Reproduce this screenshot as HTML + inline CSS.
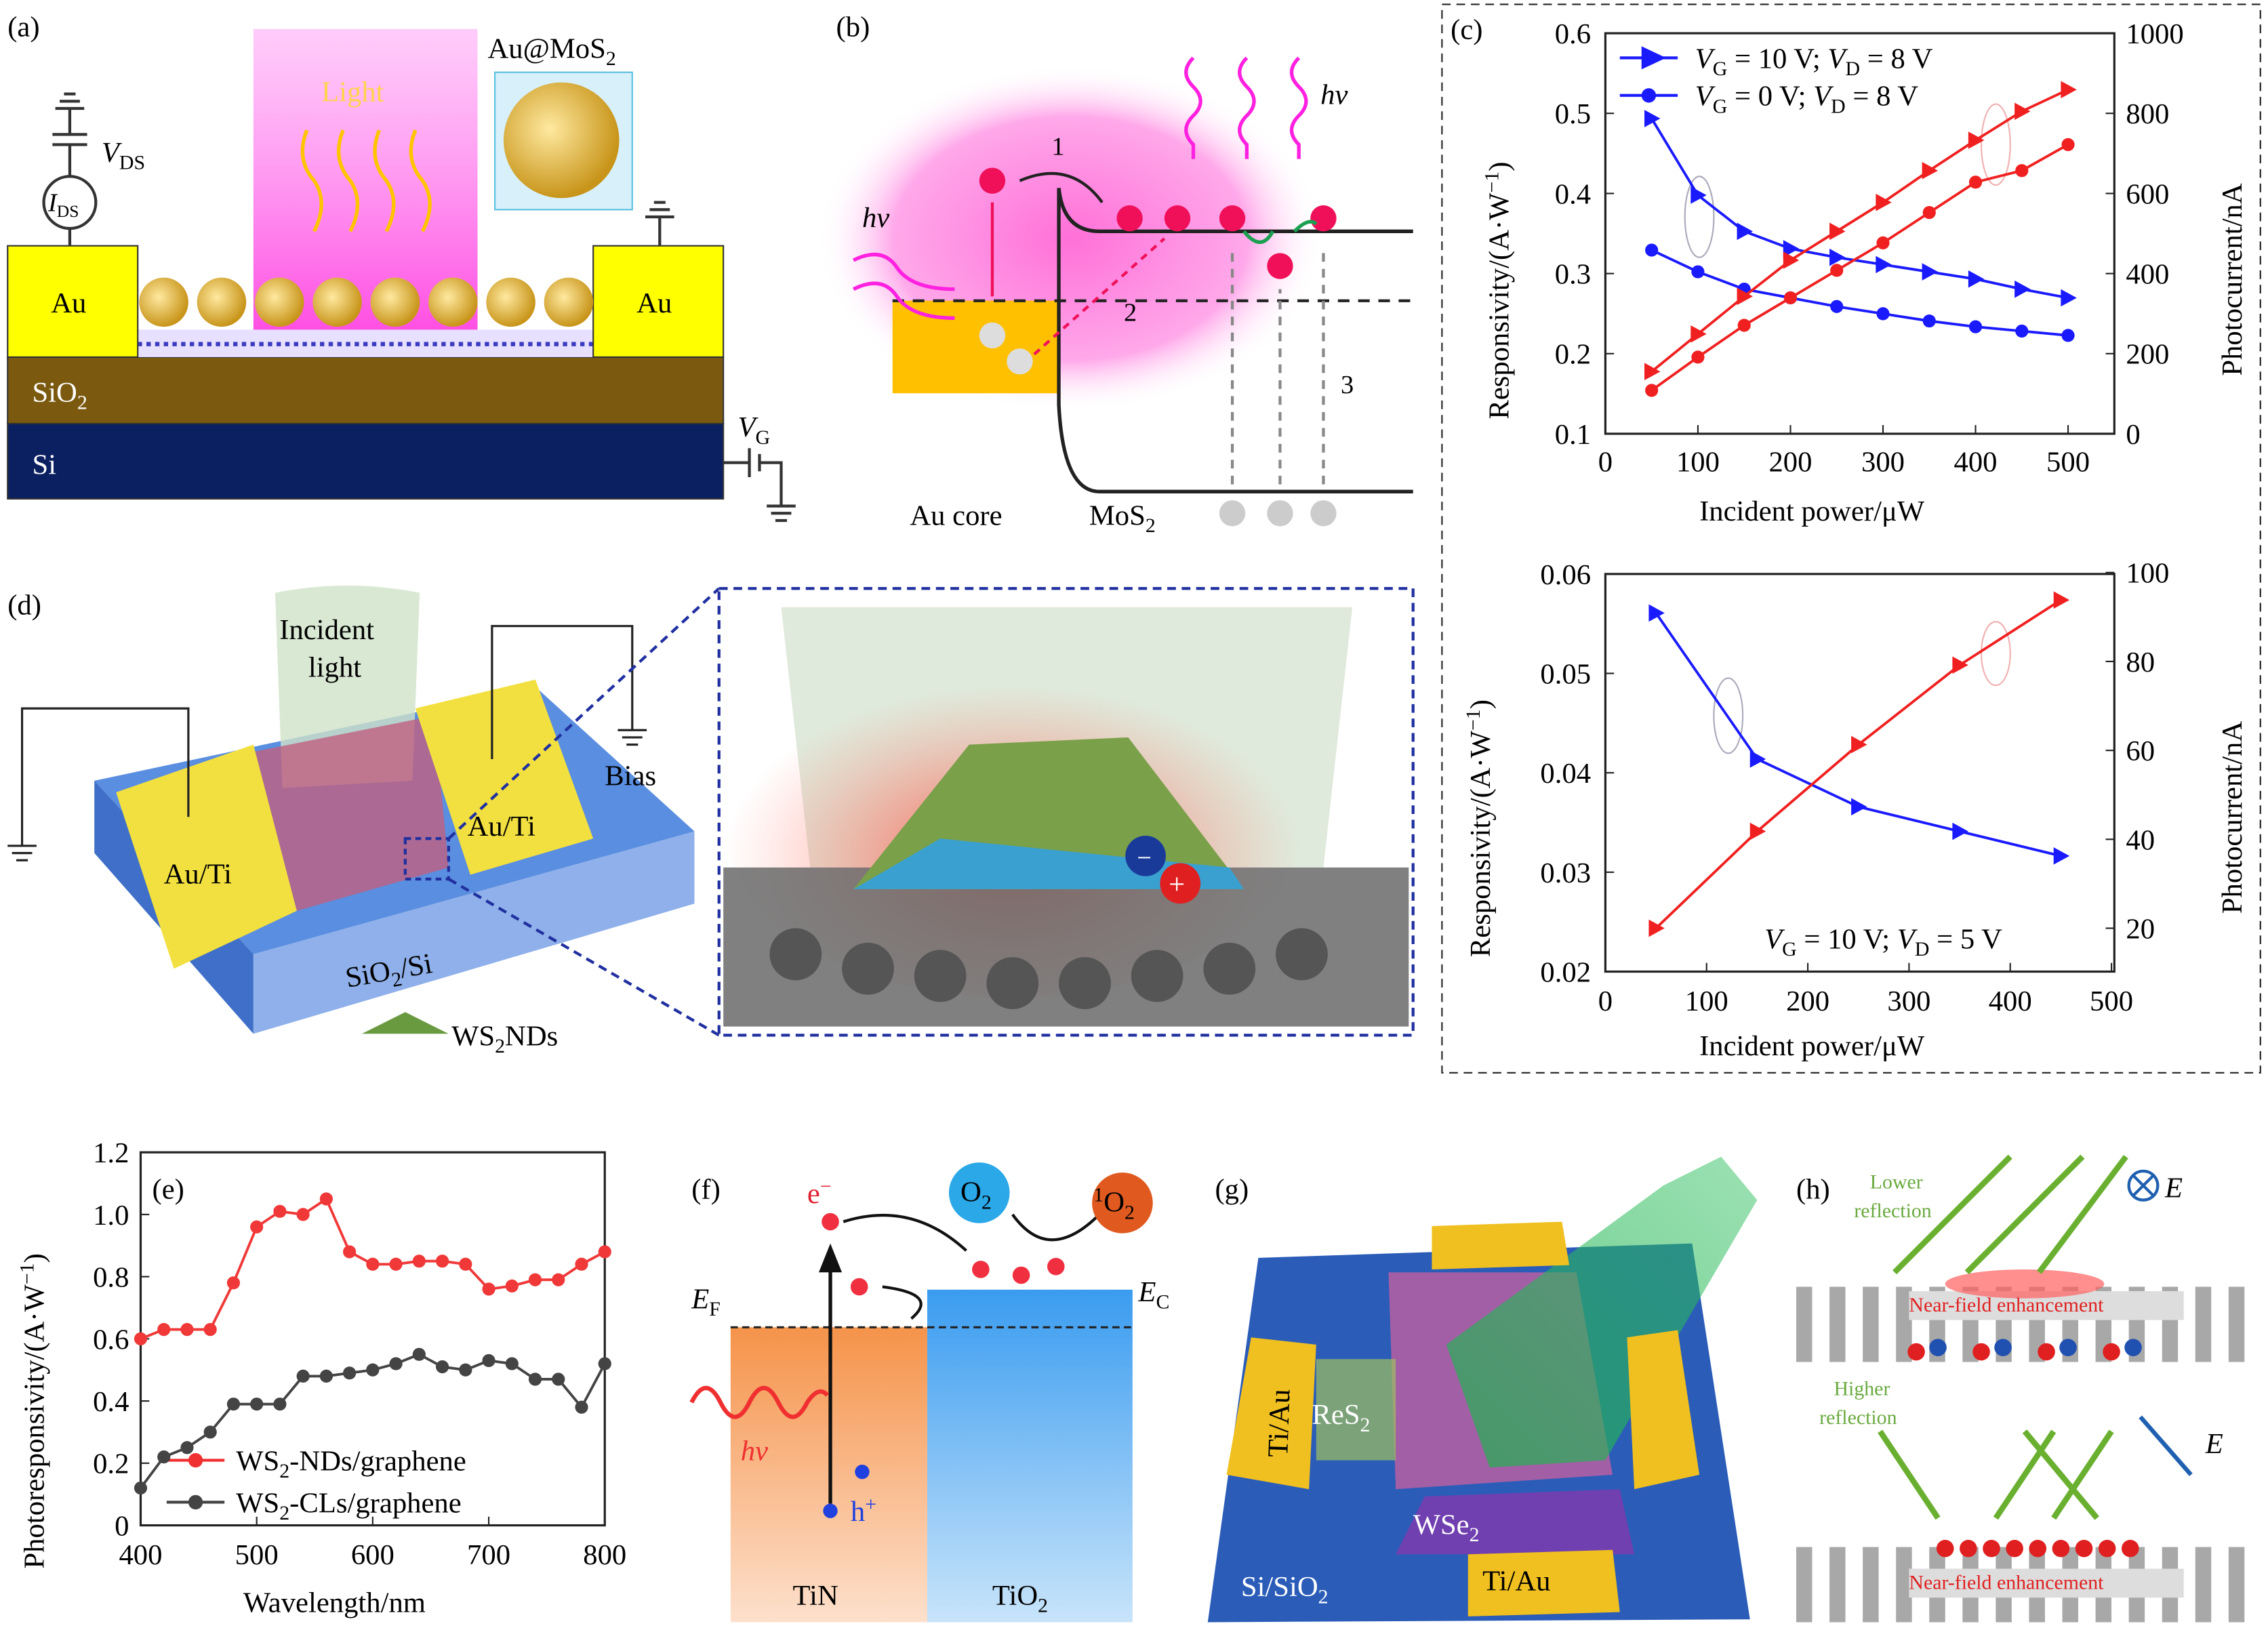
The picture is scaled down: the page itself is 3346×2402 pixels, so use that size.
<!DOCTYPE html>
<html><head><meta charset="utf-8"><style>
html,body{margin:0;padding:0;background:#fff}
svg{display:block}
text{font-family:"Liberation Serif",serif}
</style></head><body>
<svg id="s" width="3346" height="2402" viewBox="0 0 1568 1126" xmlns="http://www.w3.org/2000/svg">
<defs>
<linearGradient id="beam" x1="0" y1="0" x2="0" y2="1"><stop offset="0" stop-color="#ff9af5" stop-opacity="0.5"/><stop offset="1" stop-color="#ff40e0"/></linearGradient>
<radialGradient id="pink" cx="0.5" cy="0.5" r="0.5"><stop offset="0" stop-color="#ff70d8"/><stop offset="0.7" stop-color="#ffa8ea"/><stop offset="1" stop-color="#fff" stop-opacity="0"/></radialGradient>
<linearGradient id="tin" x1="0" y1="0" x2="0" y2="1"><stop offset="0" stop-color="#f5934a"/><stop offset="1" stop-color="#fde0cc"/></linearGradient>
<linearGradient id="tio" x1="0" y1="0" x2="0" y2="1"><stop offset="0" stop-color="#3a9cf0"/><stop offset="1" stop-color="#c8e4fa"/></linearGradient>
<radialGradient id="ball" cx="0.4" cy="0.4" r="0.6"><stop offset="0" stop-color="#ffe9a0"/><stop offset="1" stop-color="#c8951a"/></radialGradient>
<radialGradient id="glow" cx="0.5" cy="0.6" r="0.5"><stop offset="0" stop-color="#ff3020" stop-opacity="0.8"/><stop offset="1" stop-color="#ff8070" stop-opacity="0"/></radialGradient>
<linearGradient id="gb" x1="1" y1="0" x2="0" y2="1"><stop offset="0" stop-color="#30c060" stop-opacity="0.6"/><stop offset="1" stop-color="#20b050" stop-opacity="0.9"/></linearGradient>
</defs>

<!-- (a) -->
<text x="5" y="25" font-size="20">(a)</text>
<rect x="175" y="20" width="155" height="227" fill="url(#beam)"/>
<text x="222" y="70" font-size="20" fill="#ffd34d">Light</text>
<g stroke="#ffc400" stroke-width="2.5" fill="none">
<path d="M212 90 q-8 20 5 35 q10 15 0 35"/><path d="M237 90 q-8 20 5 35 q10 15 0 35"/><path d="M262 90 q-8 20 5 35 q10 15 0 35"/><path d="M287 90 q-8 20 5 35 q10 15 0 35"/></g>
<rect x="5" y="247" width="495" height="46" fill="#7b5a10" stroke="#333"/>
<rect x="5" y="293" width="495" height="52" fill="#0b2060" stroke="#333"/>
<rect x="95" y="228" width="315" height="19" fill="#e8e0ff"/>
<line x1="95" y1="238" x2="410" y2="238" stroke="#3c3cc0" stroke-width="3" stroke-dasharray="3 3"/>
<rect x="5" y="170" width="90" height="77" fill="#ffff00" stroke="#333"/>
<rect x="410" y="170" width="90" height="77" fill="#ffff00" stroke="#333"/>
<g fill="url(#ball)"><circle cx="113" cy="209" r="17"/><circle cx="153" cy="209" r="17"/><circle cx="193" cy="209" r="17"/><circle cx="233" cy="209" r="17"/><circle cx="273" cy="209" r="17"/><circle cx="313" cy="209" r="17"/><circle cx="353" cy="209" r="17"/><circle cx="393" cy="209" r="17"/></g>
<rect x="342" y="50" width="95" height="95" fill="#d8f0fa" stroke="#5bc0e0"/>
<circle cx="388" cy="97" r="40" fill="url(#ball)"/>
<text x="337" y="40" font-size="20">Au@MoS<tspan font-size="14" dy="5">2</tspan></text>
<text x="35" y="216" font-size="20">Au</text><text x="440" y="216" font-size="20">Au</text>
<text x="22" y="278" font-size="20" fill="#fff">SiO<tspan font-size="14" dy="5">2</tspan></text>
<text x="22" y="328" font-size="20" fill="#fff">Si</text>
<circle cx="48" cy="140" r="18" fill="#fff" stroke="#333" stroke-width="2"/>
<text x="33" y="146" font-size="18" font-style="italic">I<tspan font-size="12" dy="4" font-style="normal">DS</tspan></text>
<path d="M48 122 V100 M36 100 H60 M36 93 H60 M48 93 V75 M38 75 H58 M41 70 H55 M44 65 H52 M48 158 V170" stroke="#333" stroke-width="2" fill="none"/>
<text x="70" y="112" font-size="20" font-style="italic">V<tspan font-size="14" dy="5" font-style="normal">DS</tspan></text>
<path d="M456 170 V150 M446 150 H466 M449 145 H463 M452 140 H460 M500 320 H518 M518 310 V330 M525 314 V326 M525 320 H540 V350 M530 350 H550 M533 355 H547 M536 360 H544" stroke="#333" stroke-width="2" fill="none"/>
<text x="510" y="302" font-size="20" font-style="italic">V<tspan font-size="14" dy="5" font-style="normal">G</tspan></text>

<!-- (b) -->
<text x="578" y="25" font-size="20">(b)</text>
<ellipse cx="740" cy="165" rx="175" ry="120" fill="url(#pink)"/>
<rect x="617" y="208" width="115" height="64" fill="#ffc000"/>
<path d="M732 130 Q735 160 760 160 H977 M732 130 V280 Q735 340 760 340 H977" stroke="#222" stroke-width="2.5" fill="none"/>
<line x1="617" y1="208" x2="977" y2="208" stroke="#222" stroke-width="2" stroke-dasharray="8 6"/>
<circle cx="686" cy="125" r="9" fill="#f0105a"/><line x1="686" y1="205" x2="686" y2="140" stroke="#f0105a" stroke-width="2"/>
<circle cx="686" cy="232" r="9" fill="#ddd"/><circle cx="705" cy="250" r="9" fill="#ddd"/>
<line x1="715" y1="245" x2="805" y2="165" stroke="#f0105a" stroke-width="2" stroke-dasharray="5 4"/>
<path d="M705 125 Q740 110 762 140" stroke="#222" stroke-width="2" fill="none"/>
<g fill="#f0105a"><circle cx="781" cy="151" r="9"/><circle cx="814" cy="151" r="9"/><circle cx="852" cy="151" r="9"/><circle cx="915" cy="151" r="9"/><circle cx="885" cy="184" r="9"/></g>
<path d="M860 160 q12 15 20 0 M895 160 q10 -10 15 -5" stroke="#1aa050" stroke-width="2.5" fill="none"/>
<g stroke="#888" stroke-width="2" stroke-dasharray="6 5"><line x1="852" y1="335" x2="852" y2="175"/><line x1="885" y1="335" x2="885" y2="200"/><line x1="915" y1="335" x2="915" y2="175"/></g>
<g fill="#ccc"><circle cx="852" cy="355" r="9"/><circle cx="885" cy="355" r="9"/><circle cx="915" cy="355" r="9"/></g>
<g stroke="#ff20e0" stroke-width="2.5" fill="none"><path d="M825 40 q-10 10 0 20 q10 10 0 20 q-10 10 0 20 v10"/><path d="M862 40 q-10 10 0 20 q10 10 0 20 q-10 10 0 20 v10"/><path d="M898 40 q-10 10 0 20 q10 10 0 20 q-10 10 0 20 v10"/><path d="M590 180 q20 -10 30 5 q10 15 40 15 M590 200 q20 -10 30 5 q10 15 40 15"/></g>
<text x="913" y="72" font-size="20" font-style="italic">hν</text>
<text x="596" y="157" font-size="20" font-style="italic">hν</text>
<text x="727" y="107" font-size="18">1</text><text x="777" y="222" font-size="18">2</text><text x="927" y="272" font-size="18">3</text>
<text x="629" y="363" font-size="20">Au core</text>
<text x="753" y="363" font-size="20">MoS<tspan font-size="14" dy="5">2</tspan></text>

<!-- (c) -->
<rect x="997" y="3" width="566" height="739" fill="none" stroke="#222" stroke-dasharray="6 4"/>
<text x="1003" y="27" font-size="20">(c)</text>
<g fill="none" stroke="#222" stroke-width="1.5"><rect x="1110" y="23" width="352" height="277"/></g>
<g fill="none" stroke="#222" stroke-width="1.5"><rect x="1110" y="397" width="352" height="275"/></g>
<text font-size="20" transform="translate(1043 290) rotate(-90)">Responsivity/(A·W<tspan font-size="14" dy="-7">−1</tspan><tspan dy="7">)</tspan></text>
<text font-size="20" transform="translate(1550 260) rotate(-90)">Photocurrent/nA</text>
<text x="1175" y="360" font-size="20">Incident power/μW</text>
<text font-size="20" transform="translate(1030 662) rotate(-90)">Responsivity/(A·W<tspan font-size="14" dy="-7">−1</tspan><tspan dy="7">)</tspan></text>
<text font-size="20" transform="translate(1550 632) rotate(-90)">Photocurrent/nA</text>
<text x="1175" y="730" font-size="20">Incident power/μW</text>
<text x="1220" y="656" font-size="20"><tspan font-style="italic">V</tspan><tspan font-size="14" dy="5">G</tspan><tspan dy="-5"> = 10 V; </tspan><tspan font-style="italic">V</tspan><tspan font-size="14" dy="5">D</tspan><tspan dy="-5"> = 5 V</tspan></text>
<line x1="1120" y1="40" x2="1160" y2="40" stroke="#1a1aff" stroke-width="2"/><path d="M1135 32 L1152 40 L1135 48Z" fill="#1a1aff"/>
<line x1="1120" y1="66" x2="1160" y2="66" stroke="#1a1aff" stroke-width="2"/><circle cx="1140" cy="66" r="5" fill="#1a1aff"/>
<text x="1172" y="47" font-size="20"><tspan font-style="italic">V</tspan><tspan font-size="14" dy="5">G</tspan><tspan dy="-5"> = 10 V; </tspan><tspan font-style="italic">V</tspan><tspan font-size="14" dy="5">D</tspan><tspan dy="-5"> = 8 V</tspan></text>
<text x="1172" y="73" font-size="20"><tspan font-style="italic">V</tspan><tspan font-size="14" dy="5">G</tspan><tspan dy="-5"> = 0 V; </tspan><tspan font-style="italic">V</tspan><tspan font-size="14" dy="5">D</tspan><tspan dy="-5"> = 8 V</tspan></text>
<ellipse cx="1175" cy="150" rx="10" ry="28" fill="none" stroke="#aab" /><ellipse cx="1380" cy="100" rx="10" ry="28" fill="none" stroke="#f0b0b0"/>
<ellipse cx="1195" cy="495" rx="10" ry="26" fill="none" stroke="#aab" /><ellipse cx="1380" cy="452" rx="10" ry="22" fill="none" stroke="#f0b0b0"/>

<!-- (d) -->
<text x="5" y="425" font-size="20">(d)</text>
<path d="M65 540 L370 475 L480 575 L175 660Z" fill="#5a8ee0"/>
<path d="M65 540 L175 660 L175 715 L65 590Z" fill="#3f6fc8"/>
<path d="M175 660 L480 575 L480 625 L175 715Z" fill="#8fb0ea"/>
<path d="M190 410 Q240 400 290 410 L285 540 L195 545Z" fill="#cfe2c8" opacity="0.8"/>
<path d="M175 520 L300 495 L310 600 L205 630Z" fill="#c06080" opacity="0.8"/>
<path d="M80 548 L175 515 L205 630 L120 670Z" fill="#f2e040"/>
<path d="M287 490 L370 470 L410 580 L325 605Z" fill="#f2e040"/>
<rect x="280" y="580" width="30" height="28" fill="none" stroke="#2030a0" stroke-width="2" stroke-dasharray="4 3"/>
<text x="193" y="442" font-size="20">Incident</text><text x="213" y="468" font-size="20">light</text>
<text x="113" y="611" font-size="20">Au/Ti</text><text x="323" y="578" font-size="20">Au/Ti</text>
<text x="240" y="683" font-size="20" transform="rotate(-10 240 683)">SiO<tspan font-size="14" dy="5">2</tspan><tspan dy="-5">/Si</tspan></text>
<text x="418" y="543" font-size="20">Bias</text>
<path d="M130 565 V490 H15 V585 M5 585 H25 M8 590 H22 M11 595 H19 M340 525 V433 H437 V505 M427 505 H447 M430 510 H444 M433 515 H441" stroke="#222" stroke-width="1.5" fill="none"/>
<path d="M250 715 L280 700 L310 715Z" fill="#6a9a40"/>
<text x="312" y="723" font-size="20">WS<tspan font-size="14" dy="5">2</tspan><tspan dy="-5">NDs</tspan></text>
<line x1="310" y1="580" x2="497" y2="407" stroke="#2030a0" stroke-width="2" stroke-dasharray="6 4"/>
<line x1="310" y1="608" x2="497" y2="716" stroke="#2030a0" stroke-width="2" stroke-dasharray="6 4"/>
<rect x="497" y="407" width="480" height="309" fill="#fff" stroke="#2030a0" stroke-width="2" stroke-dasharray="6 4"/>
<path d="M540 420 L935 420 L915 600 L560 600Z" fill="#dfeadc"/>
<ellipse cx="700" cy="570" rx="200" ry="120" fill="url(#glow)"/>
<rect x="500" y="600" width="474" height="110" fill="#6a6a6a" opacity="0.85"/>
<g fill="#555"><circle cx="550" cy="660" r="18"/><circle cx="600" cy="670" r="18"/><circle cx="650" cy="675" r="18"/><circle cx="700" cy="680" r="18"/><circle cx="750" cy="680" r="18"/><circle cx="800" cy="675" r="18"/><circle cx="850" cy="670" r="18"/><circle cx="900" cy="660" r="18"/></g>
<path d="M590 615 L670 515 L780 510 L860 615Z" fill="#7aa04a"/>
<path d="M590 615 L650 580 L850 600 L860 615Z" fill="#3aa0d0"/>
<circle cx="792" cy="592" r="14" fill="#1a3a9a"/><circle cx="816" cy="611" r="14" fill="#e02020"/>
<text x="786" y="599" font-size="18" fill="#fff">−</text><text x="808" y="618" font-size="20" fill="#fff">+</text>

<!-- (e) -->
<text x="105" y="829" font-size="20">(e)</text>
<g fill="none" stroke="#222" stroke-width="1.5"><rect x="97" y="797" width="321" height="258"/></g>
<text font-size="20" transform="translate(30 1085) rotate(-90)">Photoresponsivity/(A·W<tspan font-size="14" dy="-7">−1</tspan><tspan dy="7">)</tspan></text>
<text x="168" y="1115" font-size="20">Wavelength/nm</text>
<line x1="115" y1="1010" x2="155" y2="1010" stroke="#f03030" stroke-width="2"/><circle cx="135" cy="1010" r="5" fill="#f03030"/>
<line x1="115" y1="1039" x2="155" y2="1039" stroke="#444" stroke-width="2"/><circle cx="135" cy="1039" r="5" fill="#444"/>
<text x="163" y="1017" font-size="20">WS<tspan font-size="14" dy="5">2</tspan><tspan dy="-5">-NDs/graphene</tspan></text>
<text x="163" y="1046" font-size="20">WS<tspan font-size="14" dy="5">2</tspan><tspan dy="-5">-CLs/graphene</tspan></text>

<!-- (f) -->
<text x="478" y="829" font-size="20">(f)</text>
<rect x="505" y="918" width="136" height="204" fill="url(#tin)"/>
<rect x="641" y="892" width="142" height="230" fill="url(#tio)"/>
<line x1="505" y1="918" x2="783" y2="918" stroke="#222" stroke-width="1.5" stroke-dasharray="5 3"/>
<text x="478" y="905" font-size="20" font-style="italic">E<tspan font-size="14" dy="5" font-style="normal">F</tspan></text>
<text x="787" y="900" font-size="20" font-style="italic">E<tspan font-size="14" dy="5" font-style="normal">C</tspan></text>
<line x1="574" y1="1040" x2="574" y2="875" stroke="#111" stroke-width="2.5"/><path d="M566 880 L574 860 L582 880Z" fill="#111"/>
<circle cx="574" cy="845" r="6" fill="#f03040"/><circle cx="594" cy="890" r="6" fill="#f03040"/>
<circle cx="678" cy="878" r="6" fill="#f03040"/><circle cx="706" cy="882" r="6" fill="#f03040"/><circle cx="730" cy="876" r="6" fill="#f03040"/>
<circle cx="574" cy="1045" r="5" fill="#2040e0"/><circle cx="596" cy="1018" r="5" fill="#2040e0"/>
<path d="M583 845 Q630 830 668 865 M700 840 Q725 875 760 840 M610 890 Q650 895 630 912" stroke="#111" stroke-width="2" fill="none"/>
<circle cx="677" cy="825" r="21" fill="#2aa8e8"/><circle cx="776" cy="832" r="21" fill="#e05a20"/>
<text x="664" y="831" font-size="20">O<tspan font-size="14" dy="5">2</tspan></text>
<text x="756" y="838" font-size="20"><tspan font-size="14" dy="-7">1</tspan><tspan dy="7">O</tspan><tspan font-size="14" dy="5">2</tspan></text>
<text x="558" y="832" font-size="20" fill="#e02030">e<tspan font-size="14" dy="-7">−</tspan></text>
<text x="588" y="1052" font-size="20" fill="#2040e0">h<tspan font-size="14" dy="-7">+</tspan></text>
<path d="M478 970 q10 -20 20 0 q10 20 20 0 q10 -20 20 0 q10 20 20 0 q8 -12 14 -5" stroke="#f03030" stroke-width="3" fill="none"/>
<text x="512" y="1010" font-size="20" font-style="italic" fill="#f03030">hν</text>
<text x="548" y="1110" font-size="20">TiN</text>
<text x="686" y="1110" font-size="20">TiO<tspan font-size="14" dy="5">2</tspan></text>

<!-- (g) -->
<text x="840" y="829" font-size="20">(g)</text>
<path d="M870 870 L1170 860 L1210 1120 L835 1122Z" fill="#2a5cb8"/>
<path d="M960 880 L1090 880 L1115 1020 L965 1030Z" fill="#c060a0" opacity="0.8"/>
<path d="M985 1035 L1120 1030 L1130 1075 L965 1075Z" fill="#7040b0"/>
<path d="M1000 930 L1150 820 L1190 800 L1215 830 L1110 1010 L1030 1015Z" fill="url(#gb)" opacity="0.8"/>
<path d="M990 848 L1080 845 L1085 875 L990 878Z" fill="#f0c020"/>
<path d="M865 925 L910 930 L905 1030 L848 1020Z" fill="#f0c020"/>
<path d="M1125 925 L1160 920 L1175 1020 L1130 1030Z" fill="#f0c020"/>
<path d="M1015 1075 L1115 1072 L1120 1115 L1015 1118Z" fill="#f0c020"/>
<rect x="910" y="940" width="55" height="70" fill="#a0c060" opacity="0.7"/>
<text x="907" y="985" font-size="20" fill="#fff">ReS<tspan font-size="14" dy="5">2</tspan></text>
<text x="977" y="1061" font-size="20" fill="#fff">WSe<tspan font-size="14" dy="5">2</tspan></text>
<text x="858" y="1104" font-size="20" fill="#fff">Si/SiO<tspan font-size="14" dy="5">2</tspan></text>
<text x="1025" y="1100" font-size="20">Ti/Au</text>
<text font-size="20" transform="translate(890 1008) rotate(-88)">Ti/Au</text>

<!-- (h) -->
<text x="1242" y="829" font-size="20">(h)</text>
<g id="bars1"></g>
<rect x="1320" y="893" width="190" height="20" fill="#ddd"/>
<rect x="1320" y="1085" width="190" height="20" fill="#ddd"/>
<ellipse cx="1400" cy="888" rx="55" ry="10" fill="#ff6060" opacity="0.7"/>
<text x="1320" y="907" font-size="14" fill="#e02020">Near-field enhancement</text>
<text x="1320" y="1099" font-size="14" fill="#e02020">Near-field enhancement</text>
<text x="1293" y="822" font-size="14" fill="#6aaa40">Lower</text><text x="1282" y="842" font-size="14" fill="#6aaa40">reflection</text>
<text x="1268" y="965" font-size="14" fill="#6aaa40">Higher</text><text x="1258" y="985" font-size="14" fill="#6aaa40">reflection</text>
<g stroke="#6ab030" stroke-width="4" fill="none"><line x1="1310" y1="880" x2="1390" y2="800"/><line x1="1360" y1="880" x2="1440" y2="800"/><line x1="1410" y1="880" x2="1470" y2="800"/><line x1="1340" y1="1050" x2="1300" y2="990"/><line x1="1380" y1="1050" x2="1420" y2="990"/><line x1="1420" y1="1050" x2="1460" y2="990"/><line x1="1450" y1="1050" x2="1400" y2="990"/></g>
<circle cx="1482" cy="820" r="10" fill="none" stroke="#2060b0" stroke-width="2"/><path d="M1475 813 L1489 827 M1489 813 L1475 827" stroke="#2060b0" stroke-width="2"/>
<text x="1497" y="828" font-size="20" font-style="italic">E</text>
<line x1="1480" y1="980" x2="1515" y2="1020" stroke="#2060b0" stroke-width="3"/>
<text x="1525" y="1005" font-size="20" font-style="italic">E</text>
<g id="dots"></g>
</svg>
<script>
const NS="http://www.w3.org/2000/svg";
const s=document.getElementById('s');
function el(t,a,p){const e=document.createElementNS(NS,t);for(const k in a)e.setAttribute(k,a[k]);(p||s).appendChild(e);return e;}
function txt(x,y,str,anchor,size){const e=el('text',{x:x,y:y,'font-size':size||20,'text-anchor':anchor||'middle'});e.textContent=str;return e;}
[[0,1110],[100,1174],[200,1238],[300,1302],[400,1366],[500,1430]].forEach(([v,x])=>{txt(x,326,v);el('line',{x1:x,y1:300,x2:x,y2:294,stroke:'#222'});});
['0.1','0.2','0.3','0.4','0.5','0.6'].forEach((v,i)=>{const y=300-i*55.4;txt(1100,y+7,v,'end');el('line',{x1:1110,y1:y,x2:1116,y2:y,stroke:'#222'});});
['0','200','400','600','800','1000'].forEach((v,i)=>{const y=300-i*55.4;txt(1470,y+7,v,'start');el('line',{x1:1462,y1:y,x2:1456,y2:y,stroke:'#222'});});
function series(pts,col,mk){el('polyline',{points:pts.map(p=>p.join(',')).join(' '),fill:'none',stroke:col,'stroke-width':1.8});pts.forEach(([x,y])=>{if(mk=='c')el('circle',{cx:x,cy:y,r:4.5,fill:col});else el('path',{d:`M${x-5} ${y-6} L${x+6} ${y} L${x-5} ${y+6}Z`,fill:col});});}
const xs1=[50,100,150,200,250,300,350,400,450,500].map(p=>1110+p*0.64);
const z=(a)=>xs1.map((x,i)=>[x,a[i]]);
series(z([82,135,160,172,178,183,188,193,200,206]),'#1a1aff','t');
series(z([173,188,200,206,212,217,222,226,229,232]),'#1a1aff','c');
series(z([257,231,205,180,160,140,118,97,77,62]),'#f02020','t');
series(z([270,247,225,206,187,168,147,126,118,100]),'#f02020','c');
[0,100,200,300,400,500].forEach((v,i)=>{const x=1110+i*70;txt(x,699,v);el('line',{x1:x,y1:672,x2:x,y2:666,stroke:'#222'});});
['0.02','0.03','0.04','0.05','0.06'].forEach((v,i)=>{const y=672-i*68.75;txt(1100,y+7,v,'end');el('line',{x1:1110,y1:y,x2:1116,y2:y,stroke:'#222'});});
['20','40','60','80','100'].forEach((v,i)=>{const y=642-i*61.5;txt(1470,y+7,v,'start');el('line',{x1:1462,y1:y,x2:1456,y2:y,stroke:'#222'});});
const xs2=[1145,1215,1285,1355,1425];
series(xs2.map((x,i)=>[x,[424,525,558,575,592][i]]),'#1a1aff','t');
series(xs2.map((x,i)=>[x,[642,575,515,460,415][i]]),'#f02020','t');
[400,500,600,700,800].forEach((v,i)=>{const x=97+i*80.25;txt(x,1082,v);el('line',{x1:x,y1:1055,x2:x,y2:1049,stroke:'#222'});});
['0','0.2','0.4','0.6','0.8','1.0','1.2'].forEach((v,i)=>{const y=1055-i*43;txt(89,y+7,v,'end');el('line',{x1:97,y1:y,x2:103,y2:y,stroke:'#222'});});
const red=[.6,.63,.63,.63,.78,.96,1.01,1.0,1.05,.88,.84,.84,.85,.85,.84,.76,.77,.79,.79,.84,.88];
const blk=[.12,.22,.25,.3,.39,.39,.39,.48,.48,.49,.5,.52,.55,.51,.5,.53,.52,.47,.47,.38,.52];
const ex=i=>97+i*16.05, ey=v=>1055-v*215;
series(blk.map((v,i)=>[ex(i),ey(v)]),'#444','c');
series(red.map((v,i)=>[ex(i),ey(v)]),'#f03838','c');
const bars=document.getElementById('bars1'), dots=document.getElementById('dots');
for(let r of [890,1070]){for(let i=0;i<14;i++){el('rect',{x:1242+i*23,y:r,width:11,height:52,fill:'#a8a8a8'},bars);}}
[1325,1370,1415,1460].forEach(x=>{el('circle',{cx:x,cy:935,r:6,fill:'#e02020'},dots);el('circle',{cx:x+15,cy:932,r:6,fill:'#2050b0'},dots);});
for(let i=0;i<9;i++)el('circle',{cx:1345+i*16,cy:1071,r:6,fill:'#e02020'},dots);
</script>
</body></html>
